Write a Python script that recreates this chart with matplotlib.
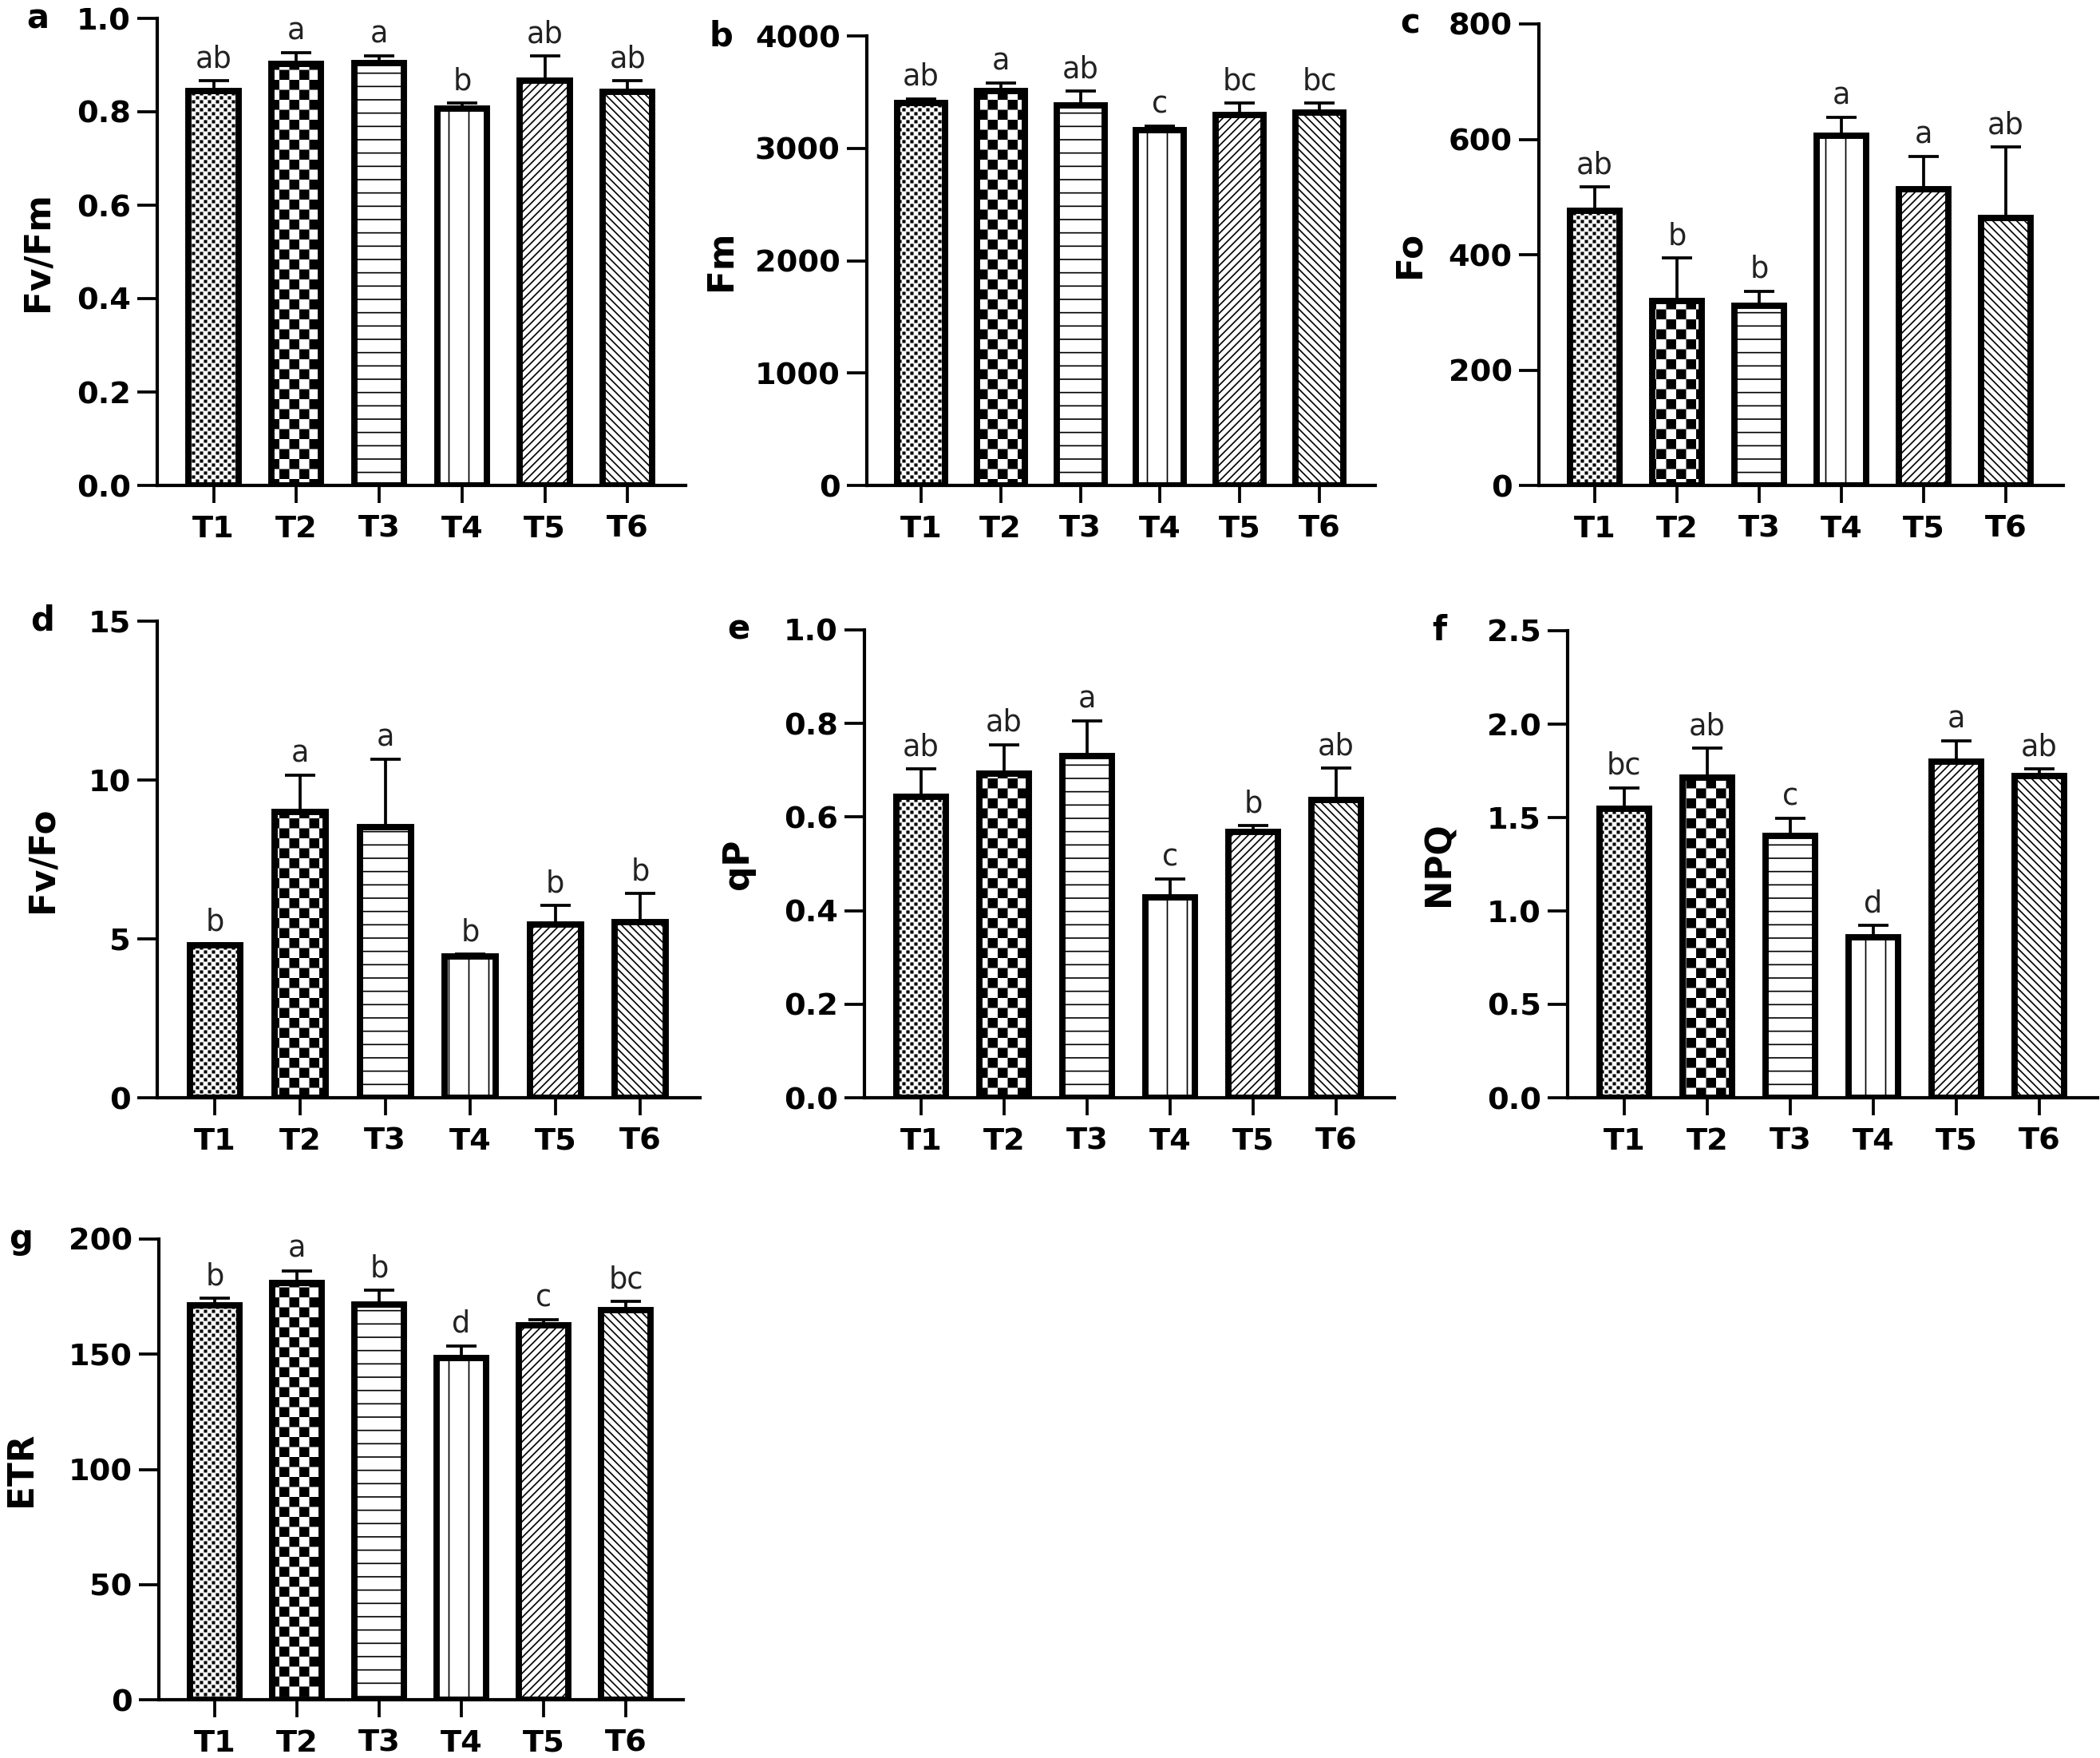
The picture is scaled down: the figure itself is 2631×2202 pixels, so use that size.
import matplotlib
matplotlib.use("Agg")
import matplotlib.pyplot as plt
import matplotlib.hatch as mhatch
from matplotlib.path import Path
import numpy as np

treatments = ["T1", "T2", "T3", "T4", "T5", "T6"]

fvfm_mean = [0.844, 0.903, 0.904, 0.806, 0.866, 0.843]
fvfm_err = [0.023, 0.023, 0.015, 0.013, 0.053, 0.024]
fvfm_letters = ["ab", "a", "a", "b", "ab", "ab"]

fm_mean = [3404, 3512, 3385, 3165, 3299, 3315]
fm_err = [38, 67, 127, 32, 105, 89]
fm_letters = ["ab", "a", "ab", "c", "bc", "bc"]

fo_mean = [476, 320, 311, 606, 514, 464]
fo_err = [41, 74, 26, 32, 56, 123]
fo_letters = ["ab", "b", "b", "a", "a", "ab"]

fvfo_mean = [4.79, 8.99, 8.51, 4.45, 5.45, 5.53]
fvfo_err = [0.06, 1.16, 2.15, 0.08, 0.61, 0.90]
fvfo_letters = ["b", "a", "a", "b", "b", "b"]

qp_mean = [0.644, 0.693, 0.730, 0.428, 0.569, 0.636]
qp_err = [0.059, 0.062, 0.075, 0.039, 0.013, 0.069]
qp_letters = ["ab", "ab", "a", "c", "b", "ab"]

npq_mean = [1.545, 1.713, 1.400, 0.858, 1.800, 1.721]
npq_err = [0.115, 0.158, 0.097, 0.063, 0.109, 0.040]
npq_letters = ["bc", "ab", "c", "d", "a", "ab"]

etr_mean = [171.1, 180.8, 171.6, 148.5, 162.6, 169.1]
etr_err = [3.2, 5.5, 6.1, 5.2, 2.3, 3.9]
etr_letters = ["b", "a", "b", "d", "c", "bc"]

# o = fine checker, O = coarse checker (custom patterns below)
hatches = ["o" * 10, "O" * 4, "-" * 3, "|" * 2, "/" * 10, "\\" * 10]

plt.rcParams["font.family"] = ["DejaVu Sans"]
plt.rcParams["hatch.linewidth"] = 0.4


# checkerboard hatch, replaces the circle hatches
class FineChecker(mhatch.HatchPatternBase):
    char = "o"
    fill = 0.82

    def __init__(self, hatch, density):
        n = int(hatch.count(self.char) * density)
        self.n = n - n % 2
        self.num_vertices = (self.n * self.n // 2) * 5

    def set_vertices_and_codes(self, vertices, codes):
        s = 1.0 / self.n
        shrink = plt.rcParams["hatch.linewidth"] / 72.0 / 2.0
        shrink += s * (1 - self.fill) / 2
        i, j = np.meshgrid(np.arange(self.n), np.arange(self.n))
        keep = (i + j) % 2 == 0
        x0 = i[keep] * s + shrink
        y0 = j[keep] * s + shrink
        x1 = x0 + s - 2 * shrink
        y1 = y0 + s - 2 * shrink
        sq = np.stack([np.c_[x0, y0], np.c_[x1, y0], np.c_[x1, y1],
                       np.c_[x0, y1], np.c_[x0, y0]], axis=1)
        vertices[:] = sq.reshape(-1, 2)
        c = np.full((len(x0), 5), Path.LINETO, dtype=Path.code_type)
        c[:, 0] = Path.MOVETO
        c[:, 4] = Path.CLOSEPOLY
        codes[:] = c.ravel()


class CoarseChecker(FineChecker):
    char = "O"
    fill = 1.0


mhatch._hatch_types = [t for t in mhatch._hatch_types
                       if t not in (mhatch.SmallCircles, mhatch.LargeCircles)]
mhatch._hatch_types += [FineChecker, CoarseChecker]

W, H = 2631, 2202
fig = plt.figure(figsize=(W / 300, H / 300), dpi=300)


def px_rect(left, bottom, width, height):
    return [left / W, 1 - bottom / H, width / W, height / H]


def panel(rect, means, errs, letters, ylabel, ymax, ystep, fmt, tag, label_x):
    ax = fig.add_axes(rect)
    x = np.arange(len(treatments))
    bars = ax.bar(x, means, width=0.6, color="white", edgecolor="black",
                  linewidth=1.9, zorder=3)
    for b, h in zip(bars, hatches):
        b.set_hatch(h)
    ax.errorbar(x, means, yerr=[np.zeros(len(errs)), errs], fmt="none",
                ecolor="black", elinewidth=0.9, capsize=4.5, capthick=0.9,
                zorder=2)
    for xi, m, e, t in zip(x, means, errs, letters):
        ax.annotate(t, (xi, m + e), xytext=(0, 4), textcoords="offset points",
                    ha="center", va="baseline", fontsize=8.8, color="#222222")

    ax.set_xlim(-0.68, 5.7)
    ax.set_ylim(0, ymax)
    ticks = np.arange(0, ymax + ystep / 2, ystep)
    ax.set_yticks(ticks)
    ax.set_yticklabels([fmt.format(t) for t in ticks])
    ax.set_xticks(x)
    ax.set_xticklabels(treatments)
    for lab in ax.get_xticklabels() + ax.get_yticklabels():
        lab.set_fontweight("bold")

    ax.spines["top"].set_visible(False)
    ax.spines["right"].set_visible(False)
    ax.spines["left"].set_linewidth(1.0)
    ax.spines["bottom"].set_linewidth(1.0)
    ax.tick_params(axis="y", length=6, width=0.9, pad=2, labelsize=9.2)
    ax.tick_params(axis="x", length=5.3, width=0.9, pad=3.5, labelsize=9.2)

    ax.set_ylabel(ylabel, fontsize=10.5, fontweight="bold", va="center")
    ax.yaxis.set_label_coords(label_x, 0.5)
    ax.text(label_x, 1.0, tag, transform=ax.transAxes, fontsize=10,
            fontweight="bold", ha="center", va="center")
    return ax


panel(px_rect(197, 608, 662, 585), fvfm_mean, fvfm_err, fvfm_letters,
      "Fv/Fm", 1.0, 0.2, "{:.1f}", "a", -0.226)
panel(px_rect(1086, 608, 637, 563), fm_mean, fm_err, fm_letters,
      "Fm", 4000, 1000, "{:.0f}", "b", -0.287)
panel(px_rect(1928, 608, 657, 578), fo_mean, fo_err, fo_letters,
      "Fo", 800, 200, "{:.0f}", "c", -0.246)
panel(px_rect(197, 1375, 680, 597), fvfo_mean, fvfo_err, fvfo_letters,
      "Fv/Fo", 15, 5, "{:.0f}", "d", -0.212)
panel(px_rect(1083, 1375, 664, 586), qp_mean, qp_err, qp_letters,
      "qP", 1.0, 0.2, "{:.1f}", "e", -0.238)
panel(px_rect(1964, 1375, 664, 585), npq_mean, npq_err, npq_letters,
      "NPQ", 2.5, 0.5, "{:.1f}", "f", -0.242)
panel(px_rect(199, 2129, 657, 577), etr_mean, etr_err, etr_letters,
      "ETR", 200, 50, "{:.0f}", "g", -0.263)

plt.savefig("out.png", dpi=300)
